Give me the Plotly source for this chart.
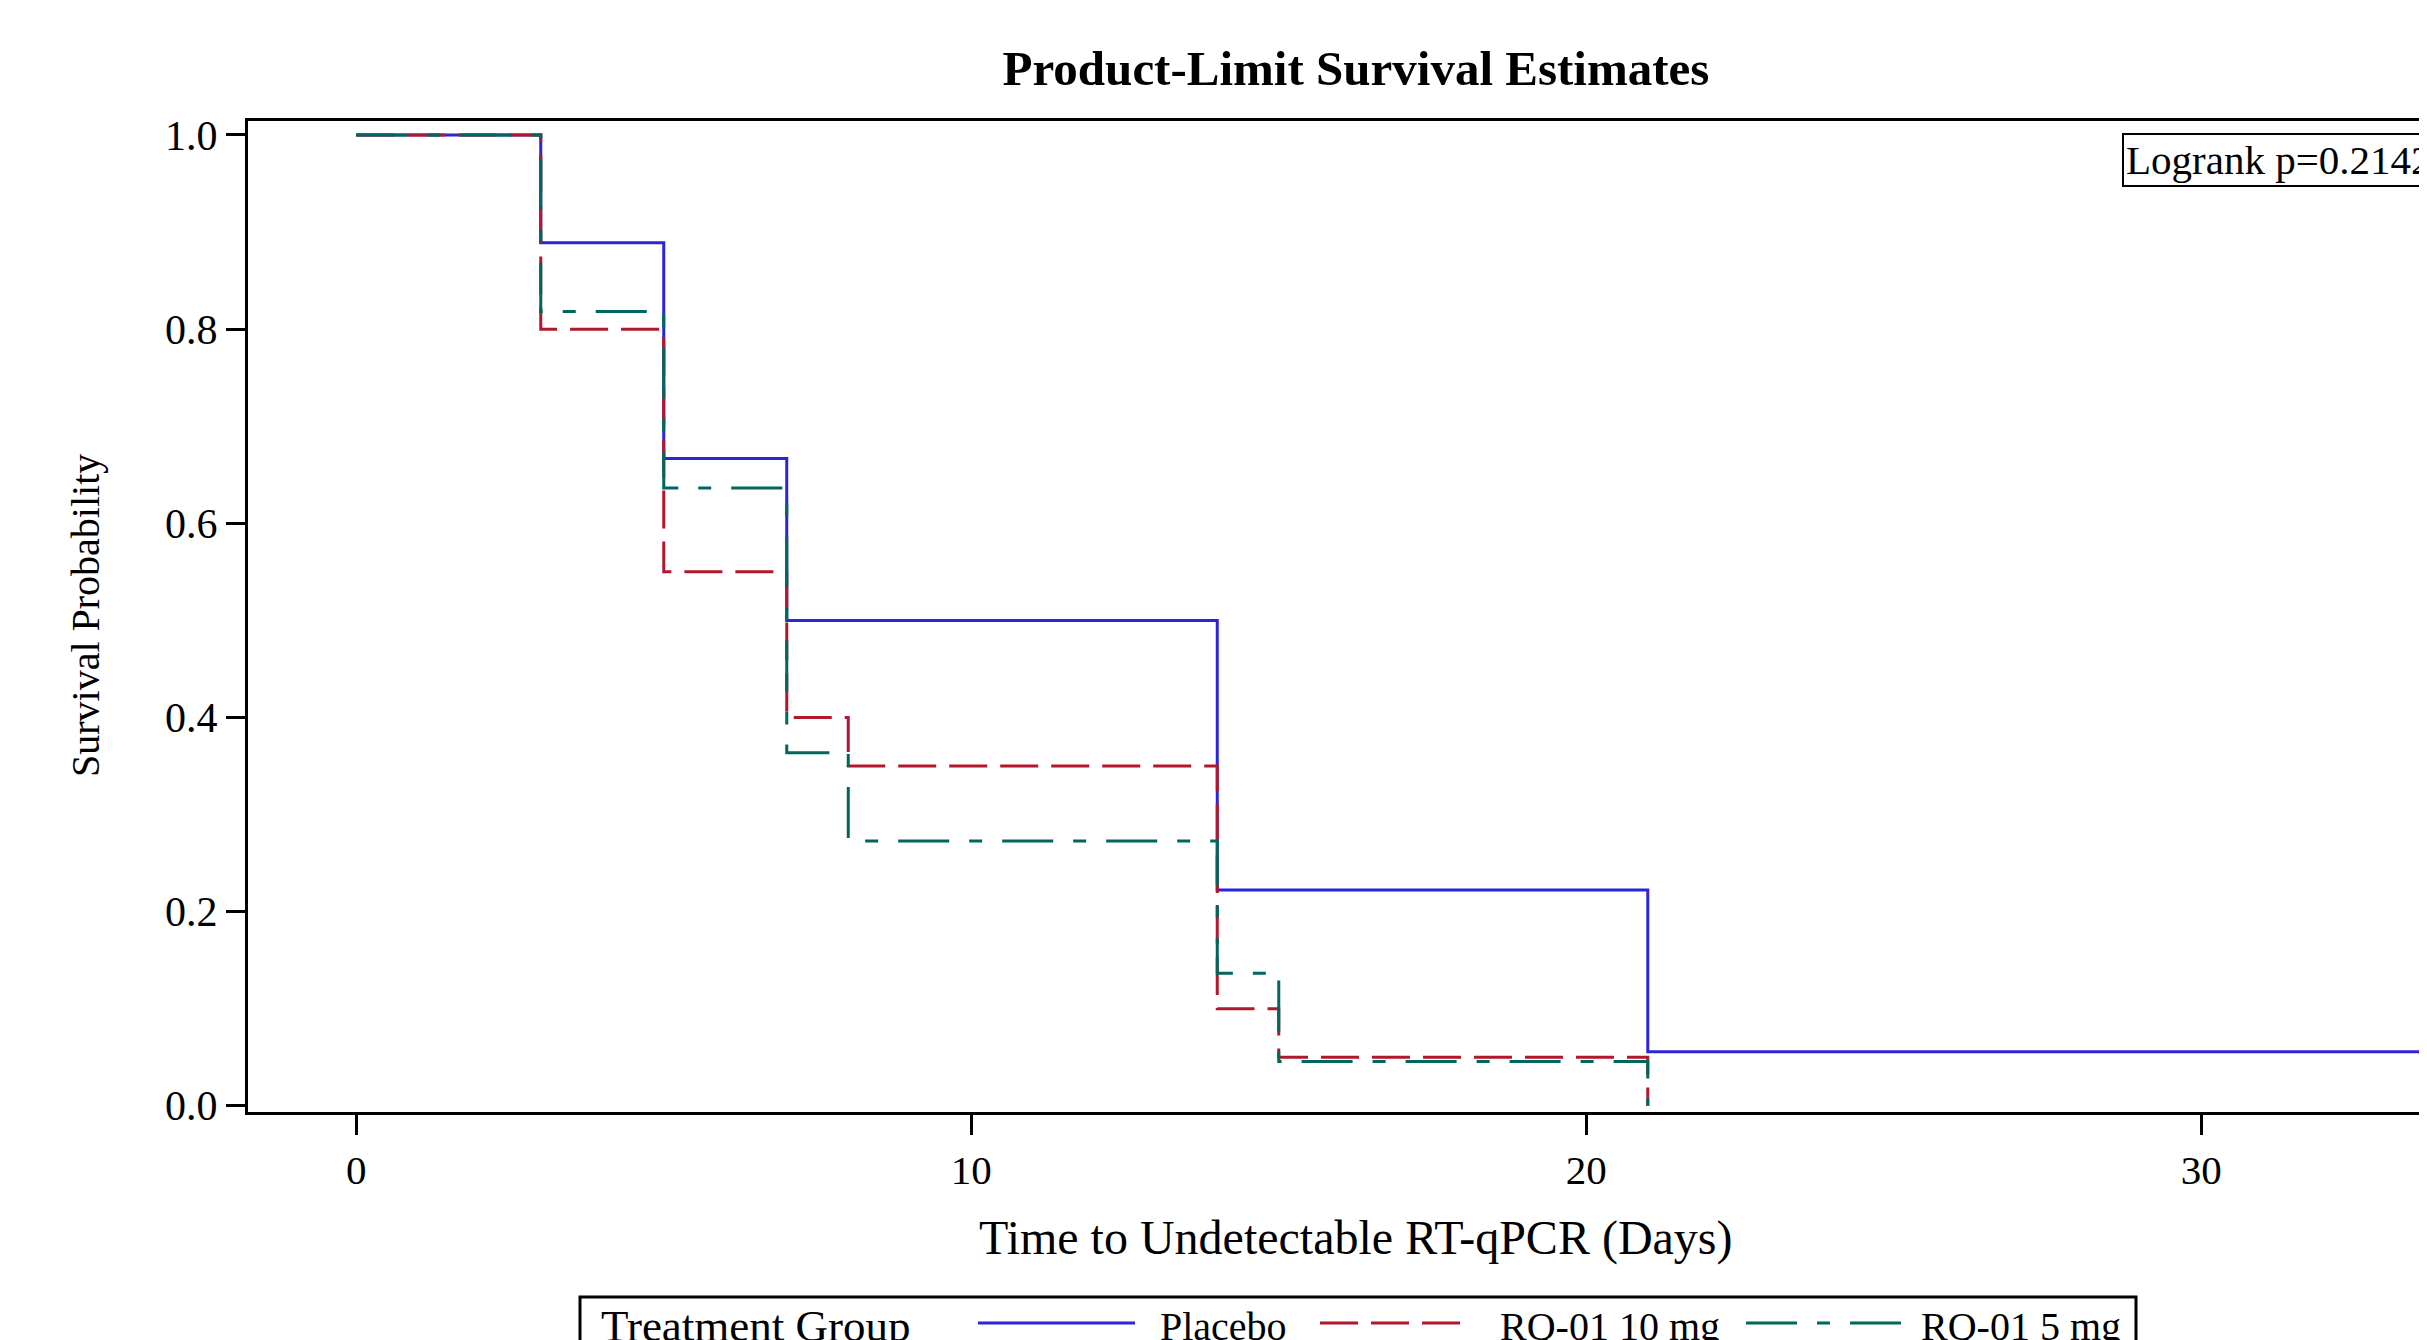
import plotly.graph_objects as go

# ---- data ----
groups = ["Placebo", "RQ-01 10 mg", "RQ-01 5 mg"]
placebo_t = [0, 3, 5, 7, 14, 21, 36]
placebo_s = [1.0, 0.8889, 0.6667, 0.5, 0.2222, 0.0556, 0.0556]
rq10_t = [0, 3, 5, 7, 8, 14, 15, 21]
rq10_s = [1.0, 0.80, 0.55, 0.40, 0.35, 0.10, 0.05, 0.0]
rq5_t = [0, 3, 5, 7, 8, 14, 15, 21]
rq5_s = [1.0, 0.8182, 0.6364, 0.3636, 0.2727, 0.1364, 0.0455, 0.0]
x_ticks = [0, 10, 20, 30]
y_ticks = [0.0, 0.2, 0.4, 0.6, 0.8, 1.0]
logrank_text = "Logrank p=0.2142"

colors = ["#2B25DA", "#B2182B", "#01665E"]
dashes = ["solid", "38px,13px", "51px,20px,13px,20px"]

# page body has an 8px margin: figure coords = screen coords - 8
OFF = 8
W, H = 2427, 1340
L, R, T, B = 248 - OFF, OFF, 121 - OFF, H - (1112 - OFF)
PW, PH = W - L - R, H - T - B
FONT = "Liberation Serif, Times New Roman, serif"


def px(p):
    return (p - OFF - L) / PW


def py(p):
    return (H - B - (p - OFF)) / PH


fig = go.Figure()
for name, t, s, c, d in zip(groups, [placebo_t, rq10_t, rq5_t],
                            [placebo_s, rq10_s, rq5_s], colors, dashes):
    fig.add_trace(go.Scatter(x=t, y=s, mode="lines", name=name,
                             line=dict(shape="hv", color=c, width=3, dash=d),
                             showlegend=False))

fig.update_layout(
    width=W, height=H,
    margin=dict(l=L, r=R, t=T, b=B, pad=0),
    paper_bgcolor="white", plot_bgcolor="white",
    font=dict(family=FONT, color="black", size=41),
    title=dict(text="<b>Product-Limit Survival Estimates</b>",
               x=px(1356), xref="paper", xanchor="center",
               y=1 - (68 - OFF) / H, yref="container", yanchor="middle",
               font=dict(family=FONT, size=49, color="black")),
)
fig.update_xaxes(range=[-1.76, 33.67], tickvals=x_ticks,
                 ticks="outside", ticklen=20, tickwidth=3, tickcolor="black",
                 showline=True, linewidth=3, linecolor="black", mirror=True,
                 showgrid=False, zeroline=False,
                 tickfont=dict(family=FONT, size=41))
fig.update_yaxes(range=[-0.0064, 1.0144], tickvals=y_ticks, tickformat=".1f",
                 ticks="outside", ticklen=19, tickwidth=3, tickcolor="black",
                 showline=True, linewidth=3, linecolor="black", mirror=False,
                 showgrid=False, zeroline=False,
                 tickfont=dict(family=FONT, size=42))

ann = []
ann.append(dict(text="Time to Undetectable RT-qPCR (Days)", x=px(1356), y=py(1238),
                xref="paper", yref="paper", xanchor="center", yanchor="middle",
                showarrow=False, font=dict(family=FONT, size=48)))
ann.append(dict(text="Survival Probability", x=px(85), y=py(616),
                xref="paper", yref="paper", xanchor="center", yanchor="middle",
                textangle=-90, showarrow=False, font=dict(family=FONT, size=40)))
ann.append(dict(text=logrank_text, x=px(2122), y=py(160),
                xref="paper", yref="paper", xanchor="left", yanchor="middle",
                showarrow=False, bordercolor="black", borderwidth=2, borderpad=2,
                bgcolor="white", font=dict(family=FONT, size=41)))

# custom legend
shapes = []
shapes.append(dict(type="rect", xref="paper", yref="paper",
                   x0=px(580), x1=px(2136), y0=py(1297), y1=py(1420),
                   line=dict(color="black", width=3), fillcolor="rgba(0,0,0,0)"))
ann.append(dict(text="Treatment Group", x=px(599), y=py(1326),
                xref="paper", yref="paper", xanchor="left", yanchor="middle",
                showarrow=False, font=dict(family=FONT, size=45)))
leg_line = [(978, 1135), (1320, 1467), (1746, 1901)]
leg_text = [1158, 1498, 1919]
for (a, b), tx, name, c, d in zip(leg_line, leg_text, groups, colors, dashes):
    shapes.append(dict(type="line", xref="paper", yref="paper",
                       x0=px(a), x1=px(b), y0=py(1323), y1=py(1323),
                       line=dict(color=c, width=3, dash=d)))
    ann.append(dict(text=name, x=px(tx), y=py(1326),
                    xref="paper", yref="paper", xanchor="left", yanchor="middle",
                    showarrow=False, font=dict(family=FONT, size=40)))

fig.update_layout(annotations=ann, shapes=shapes)
fig.write_html("out.html")
